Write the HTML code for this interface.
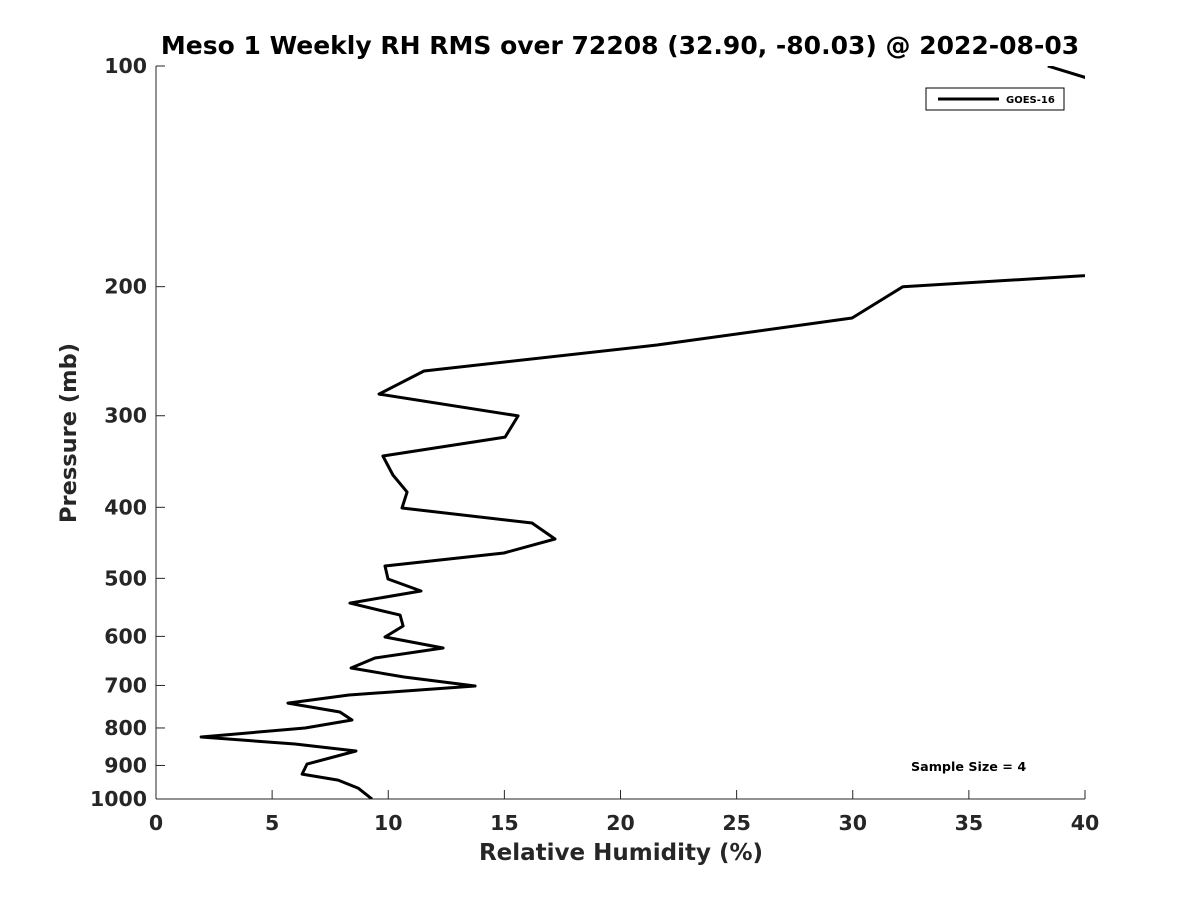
<!DOCTYPE html>
<html><head><meta charset="utf-8"><style>
body{margin:0;background:#fff;}
svg text{font-family:"DejaVu Sans","Liberation Sans",sans-serif;font-weight:bold;fill:#262626;}
</style></head><body>
<svg width="1200" height="900">
<rect width="1200" height="900" fill="#fff"/>
<defs><clipPath id="clip"><rect x="156" y="66" width="929" height="733"/></clipPath></defs>
<text x="620" y="54" text-anchor="middle" font-size="25" style="fill:#000">Meso 1 Weekly RH RMS over 72208 (32.90, -80.03) @ 2022-08-03</text>
<g id="axes"></g>
<polyline id="series" clip-path="url(#clip)" fill="none" stroke="#000" stroke-width="3" stroke-linejoin="round"/>
<g>
<rect x="926" y="88" width="138" height="22" fill="#fff" stroke="#000" stroke-width="1"/>
<line x1="938" y1="99" x2="999" y2="99" stroke="#000" stroke-width="3"/>
<text x="1006" y="103" font-size="10" style="fill:#000">GOES-16</text>
</g>
<text x="911" y="771" font-size="12.7" style="fill:#000">Sample Size = 4</text>
<text x="621" y="860" text-anchor="middle" font-size="23">Relative Humidity (%)</text>
<text transform="translate(76,433) rotate(-90)" text-anchor="middle" font-size="22.5">Pressure (mb)</text>
</svg>
<script>
const rhValues=[38.4,48.4,97,32.16,29.97,21.57,11.54,9.60,15.59,15.03,9.77,10.20,10.81,10.59,16.19,17.18,14.98,9.86,9.99,11.41,8.35,10.51,10.64,9.86,12.36,9.43,8.40,10.68,13.74,8.31,5.68,7.92,8.44,6.42,1.94,5.98,8.61,6.50,6.29,7.84,8.70,9.30];
const pressures=[100,125,150,200,220.7,240.2,260.7,280.3,300.2,320.8,340.5,361.4,381.3,400.9,420.2,441.8,461.7,481,501,520.3,540.4,561.2,580.7,601.2,622.3,642.1,662.6,681.6,701.3,721.4,739.8,760.9,780.3,800,823,841.4,860.1,896.1,924.7,942.3,966.2,1000];
const xTicks=[0,5,10,15,20,25,30,35,40];
const yTicks=[100,200,300,400,500,600,700,800,900,1000];
const X0=156,X1=1085,Y0=66,Y1=799;
function xs(v){return X0+(v-0)/40*(X1-X0);}
function ys(p){return Y0+Math.log10(p/100)*(Y1-Y0);}
const ns="http://www.w3.org/2000/svg";
const ax=document.getElementById('axes');
function mk(t,a){const e=document.createElementNS(ns,t);for(const k in a)e.setAttribute(k,a[k]);ax.appendChild(e);return e;}
let l=mk('line',{x1:X0,y1:Y1,x2:X1,y2:Y1,stroke:'#262626','stroke-width':1});


l=mk('line',{x1:X0,y1:Y0,x2:X0,y2:Y1,stroke:'#262626','stroke-width':1});


xTicks.forEach(v=>{const x=xs(v);
 const t=mk('line',{x1:x,y1:Y1,x2:x,y2:Y1-9,stroke:'#262626'});
 
 
 const tx=mk('text',{x:x,y:830,'text-anchor':'middle','font-size':20.5});tx.textContent=v;
 
 });
yTicks.forEach(v=>{const y=ys(v);
 const t=mk('line',{x1:X0,y1:y,x2:X0+9,y2:y,stroke:'#262626'});
 
 
 const tx=mk('text',{x:147,y:y+7,'text-anchor':'end','font-size':20.5});tx.textContent=v;
 
 });
document.getElementById('series').setAttribute('points',rhValues.map((v,i)=>xs(v).toFixed(1)+','+ys(pressures[i]).toFixed(1)).join(' '));
</script>
</body></html>
